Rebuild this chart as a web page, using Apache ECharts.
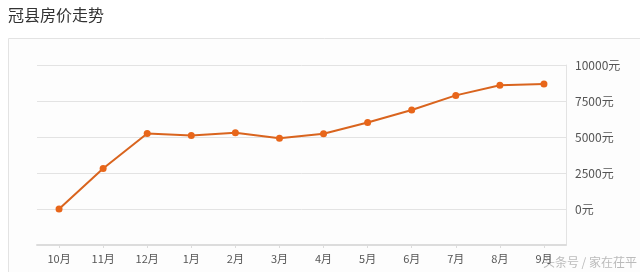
<!DOCTYPE html>
<html><head><meta charset="utf-8">
<script src="https://cdn.jsdelivr.net/npm/echarts@6/dist/echarts.min.js"></script>
<style>html,body{margin:0;padding:0;background:#fff}#c{width:640px;height:272px}</style>
</head><body><div id="c"></div>
<script>
const titleText = '冠县房价走势';
const categories = ['10月','11月','12月','1月','2月','3月','4月','5月','6月','7月','8月','9月'];
const prices = [0, 2810, 5240, 5100, 5290, 4920, 5220, 6010, 6870, 7890, 8590, 8680];
const yUnit = '元';
const watermark = '头条号 / 家在茌平';

const chart = echarts.init(document.getElementById('c'));
chart.setOption({
  backgroundColor: '#ffffff',
  animation: false,
  graphic: [
    {type:'rect', shape:{x:8.5,y:38.5,width:640,height:260}, style:{fill:'#fdfdfd', stroke:'#e3e3e3', lineWidth:1}, z:-10},
    {type:'text', left:8, top:7, style:{text:titleText, font:'16px "Noto Sans CJK SC"', fill:'#333'}},
    {type:'text', right:3, top:256, style:{text:watermark, font:'12px "Noto Sans CJK SC"', fill:'#bbb'}}
  ],
  grid: {left:37, right:74, top:65, bottom:27},
  xAxis: {
    type:'category', data:categories, boundaryGap:true,
    axisLine:{onZero:false, lineStyle:{color:'#dcdcdc', width:2}},
    axisTick:{show:true, alignWithLabel:true, length:3, lineStyle:{color:'#dcdcdc'}},
    axisLabel:{color:'#555', fontSize:11, margin:8, fontFamily:'"Noto Sans CJK SC"'}
  },
  yAxis: {
    type:'value', position:'right', min:-2500, max:10000, interval:2500,
    axisLine:{show:true, lineStyle:{color:'#e3e3e3'}},
    axisTick:{show:false},
    splitLine:{lineStyle:{color:'#e3e3e3'}},
    axisLabel:{color:'#555', fontSize:12, margin:9, fontFamily:'"Noto Sans CJK SC"',
      formatter: v => v < 0 ? '' : v + yUnit}
  },
  series: [{
    type:'line', data:prices, symbol:'circle', symbolSize:7,
    lineStyle:{color:'#d9641e', width:2},
    itemStyle:{color:'#e8661a'}
  }]
});
</script></body></html>
